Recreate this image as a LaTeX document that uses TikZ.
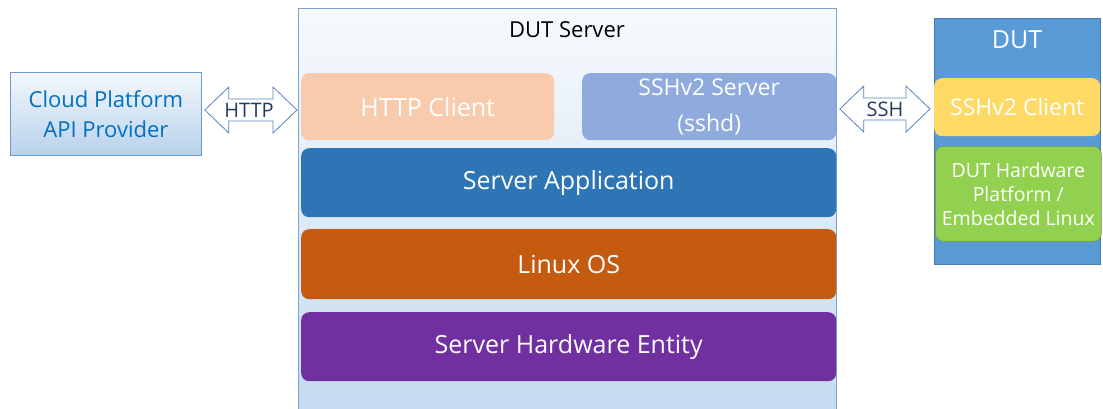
\documentclass[tikz,border=0pt]{standalone}
\usepackage{fontspec}
\setmainfont{Open Sans}
\usetikzlibrary{calc}

\definecolor{cloudtext}{HTML}{0070C0}
\definecolor{cloudedge}{HTML}{6A9BCB}
\definecolor{cloudtop}{HTML}{F4F8FD}
\definecolor{cloudbot}{HTML}{B7D1EB}
\definecolor{srvtop}{HTML}{F7FAFD}
\definecolor{srvbot}{HTML}{C3DAEF}
\definecolor{srvedge}{HTML}{7BA5CF}
\definecolor{arrowedge}{HTML}{5584BE}
\definecolor{arrowtext}{HTML}{223A5E}
\definecolor{httpc}{HTML}{F8CBAD}
\definecolor{sshs}{HTML}{8FAADC}
\definecolor{srvapp}{HTML}{2E75B6}
\definecolor{linuxos}{HTML}{C55A11}
\definecolor{srvhw}{HTML}{7030A0}
\definecolor{dutfill}{HTML}{5B9BD5}
\definecolor{dutedge}{HTML}{4A7DAE}
\definecolor{sshc}{HTML}{FFD966}
\definecolor{duthw}{HTML}{92D050}
\definecolor{duthwedge}{HTML}{6C9E3A}

\newcommand{\fs}[2]{\fontsize{#1}{#2}\selectfont}

\tikzset{
  layer/.style={rounded corners=8pt, inner sep=0pt, text=white, align=center,
                anchor=north west},
  wire/.style={draw=arrowedge, line width=0.8pt, fill=white, line join=miter},
  wirelabel/.style={text=arrowtext, font=\fs{20}{22}, inner sep=0pt},
}

\newcommand{\dblarrow}[3]{%
  \path let \p1=(#1), \p2=(#2) in
    [wire] (\x1,#3) -- (\x1+24pt,#3+23pt) -- (\x1+24pt,#3+11pt)
      -- (\x2-24pt,#3+11pt) -- (\x2-24pt,#3+23pt) -- (\x2,#3)
      -- (\x2-24pt,#3-23pt) -- (\x2-24pt,#3-11pt)
      -- (\x1+24pt,#3-11pt) -- (\x1+24pt,#3-23pt) -- cycle;}

\begin{document}
\begin{tikzpicture}[x=1pt,y=-1pt]
\useasboundingbox (0,0) rectangle (1103,408);

% cloud provider
\node[draw=cloudedge, line width=0.8pt, top color=cloudtop, bottom color=cloudbot,
      minimum width=191pt, minimum height=83pt, inner sep=0pt, anchor=north west,
      align=center, text=cloudtext, font=\fs{22}{30}]
  (cloud) at (10,72) {Cloud Platform\\API Provider};

% DUT server frame (runs past the lower edge)
\node[draw=srvedge, line width=0.8pt, top color=srvtop, bottom color=srvbot,
      minimum width=538pt, minimum height=412pt, inner sep=0pt, anchor=north west]
  (server) at (298,8) {};
\node[font=\fs{22}{24}, text=black] (servertitle) at (567,30) {DUT Server};

% server stack
\node[layer, fill=httpc, minimum width=253pt, minimum height=67pt, font=\fs{25}{28}]
  (httpclient) at (301,73) {HTTP Client};
\node[layer, fill=sshs, minimum width=254pt, minimum height=67pt, font=\fs{23}{36}]
  (sshserver) at (582,73) {SSHv2 Server\\(sshd)};
\node[layer, fill=srvapp, minimum width=535pt, minimum height=69pt, font=\fs{25}{28}]
  (app) at (301,148) {Server Application};
\node[layer, fill=linuxos, minimum width=535pt, minimum height=70pt, font=\fs{25}{28}]
  (linux) at (301,229) {Linux OS};
\node[layer, fill=srvhw, minimum width=535pt, minimum height=69pt, font=\fs{25}{28}]
  (hw) at (301,312) {Server Hardware Entity};

% DUT
\node[draw=dutedge, line width=0.8pt, fill=dutfill, minimum width=166pt,
      minimum height=246pt, inner sep=0pt, anchor=north west]
  (dut) at (934,18) {};
\node[text=white, font=\fs{25}{28}] (duttitle) at (1017,40) {DUT};
\node[layer, fill=sshc, minimum width=166pt, minimum height=58pt, font=\fs{23}{26}]
  (sshclient) at (934,78) {SSHv2 Client};
\node[layer, draw=duthwedge, line width=0.6pt, fill=duthw, minimum width=166pt,
      minimum height=95pt, font=\fs{19.5}{24}]
  (duthw) at (935,146) {DUT Hardware\\Platform /\\Embedded Linux};

% links
\dblarrow{$(cloud.east)+(3,0)$}{$(server.west)+(-1,0)$}{0pt-110pt}
\node[wirelabel] (httplabel) at (249,110) {HTTP};
\dblarrow{$(server.east)+(3,0)$}{$(dut.west)+(-4,0)$}{0pt-109pt}
\node[wirelabel] (sshlabel) at (885,109) {SSH};
\end{tikzpicture}
\end{document}
